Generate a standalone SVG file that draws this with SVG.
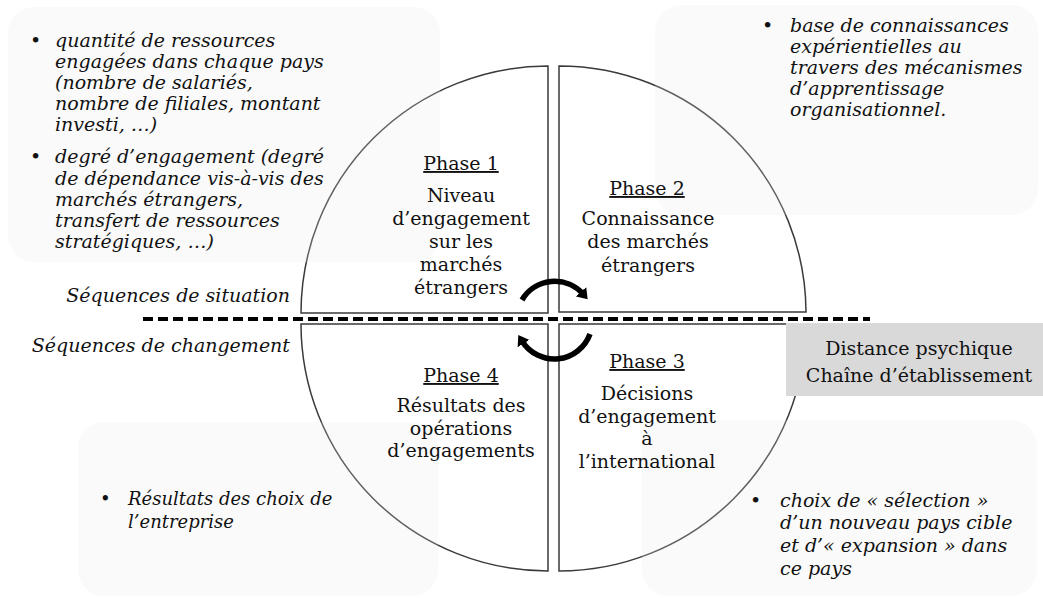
<svg xmlns="http://www.w3.org/2000/svg" width="1043" height="598" viewBox="0 0 1043 598">
<style>
.q{fill:#fff;stroke:#3a3a3a;stroke-width:1.5}
.bg{fill:#e6e6e6;fill-opacity:0.22;stroke:none}
.t{font-family:"DejaVu Serif","Liberation Serif",serif;font-size:19px;fill:#111;text-anchor:middle}
.ph{text-decoration:underline}
.it{font-family:"DejaVu Serif","Liberation Serif",serif;font-style:italic;font-size:19px;fill:#111}
.sm{font-size:18px}
.lb{font-family:"DejaVu Serif","Liberation Serif",serif;font-style:italic;font-size:19px;fill:#111;text-anchor:end}
.arc{fill:none;stroke:#000;stroke-width:5.5}
</style>
<defs>
<marker id="ah" markerUnits="userSpaceOnUse" markerWidth="14" markerHeight="14" refX="3" refY="7" orient="auto">
<path d="M0,0 L10,7 L0,14 Z" fill="#000"/>
</marker>
</defs>
<rect width="1043" height="598" fill="#fff"/>

<g id="phase1">
<path class="q" d="M548,313 L301,313 A247,247 0 0 1 548,66 Z"/>
</g>
<g id="phase2">
<path class="q" d="M559,312 L559,66 A247,247 0 0 1 806,312 Z"/>
</g>
<g id="phase3">
<path class="q" d="M559,324 L806,324 A247,247 0 0 1 559,571 Z"/>
</g>
<g id="phase4">
<path class="q" d="M548,324 L548,571 A247,247 0 0 1 301,324 Z"/>
</g>

<g id="note-tl">
<rect class="bg" x="8" y="7" width="432" height="255" rx="26"/>
<text class="it" x="30" y="47">•</text>
<text class="it" x="55" y="47">quantité de ressources</text>
<text class="it" x="55" y="68">engagées dans chaque pays</text>
<text class="it" x="55" y="89">(nombre de salariés,</text>
<text class="it" x="55" y="110">nombre de filiales, montant</text>
<text class="it" x="55" y="131">investi, …)</text>
<text class="it" x="30" y="163">•</text>
<text class="it" x="55" y="163">degré d’engagement (degré</text>
<text class="it" x="55" y="185">de dépendance vis-à-vis des</text>
<text class="it" x="55" y="206">marchés étrangers,</text>
<text class="it" x="55" y="227">transfert de ressources</text>
<text class="it" x="55" y="248">stratégiques, …)</text>
</g>

<g id="note-tr">
<rect class="bg" x="655" y="5" width="383" height="210" rx="26"/>
<text class="it" x="762" y="32">•</text>
<text class="it" x="790" y="32">base de connaissances</text>
<text class="it" x="790" y="53">expérientielles au</text>
<text class="it" x="790" y="74">travers des mécanismes</text>
<text class="it" x="790" y="95">d’apprentissage</text>
<text class="it" x="790" y="116">organisationnel.</text>
</g>

<g id="note-bl">
<rect class="bg" x="78" y="422" width="360" height="174" rx="26"/>
<text class="it sm" x="100" y="505">•</text>
<text class="it sm" x="128" y="505">Résultats des choix de</text>
<text class="it sm" x="128" y="528">l’entreprise</text>
</g>

<g id="note-br">
<rect class="bg" x="642" y="420" width="395" height="176" rx="26"/>
<text class="it" x="750" y="507">•</text>
<text class="it" x="780" y="507">choix de « sélection »</text>
<text class="it" x="780" y="529">d’un nouveau pays cible</text>
<text class="it" x="780" y="552">et d’« expansion » dans</text>
<text class="it" x="780" y="575">ce pays</text>
</g>

<g id="phase1-text">
<text class="t ph" x="461" y="170">Phase 1</text>
<text class="t" x="461" y="202">Niveau</text>
<text class="t" x="461" y="225">d’engagement</text>
<text class="t" x="461" y="248">sur les</text>
<text class="t" x="461" y="271">marchés</text>
<text class="t" x="461" y="294">étrangers</text>
</g>
<g id="phase2-text">
<text class="t ph" x="647" y="195">Phase 2</text>
<text class="t" x="648" y="225">Connaissance</text>
<text class="t" x="648" y="248">des marchés</text>
<text class="t" x="648" y="272">étrangers</text>
</g>
<g id="phase3-text">
<text class="t ph" x="647" y="368">Phase 3</text>
<text class="t" x="647" y="400">Décisions</text>
<text class="t" x="647" y="423">d’engagement</text>
<text class="t" x="647" y="445">à</text>
<text class="t" x="647" y="468">l’international</text>
</g>
<g id="phase4-text">
<text class="t ph" x="461" y="382">Phase 4</text>
<text class="t" x="461" y="412">Résultats des</text>
<text class="t" x="461" y="435">opérations</text>
<text class="t" x="461" y="457">d’engagements</text>
</g>

<g id="label-situation">
<text class="lb" x="290" y="302">Séquences de situation</text>
</g>
<g id="label-changement">
<text class="lb" x="290" y="352">Séquences de changement</text>
</g>

<g id="distance-box">
<rect x="786" y="323" width="257" height="73" fill="#d9d9d9"/>
<text class="t" x="919" y="355">Distance psychique</text>
<text class="t" x="919" y="382">Chaîne d’établissement</text>
</g>

<g id="connectors">
<line x1="143" y1="319" x2="870" y2="319" stroke="#000" stroke-width="4" stroke-dasharray="10 5"/>
<path class="arc" d="M522,300 A38,38 0 0 1 583,294" marker-end="url(#ah)"/>
<path class="arc" d="M590,334 A38,38 0 0 1 522,341" marker-end="url(#ah)"/>
</g>
</svg>
